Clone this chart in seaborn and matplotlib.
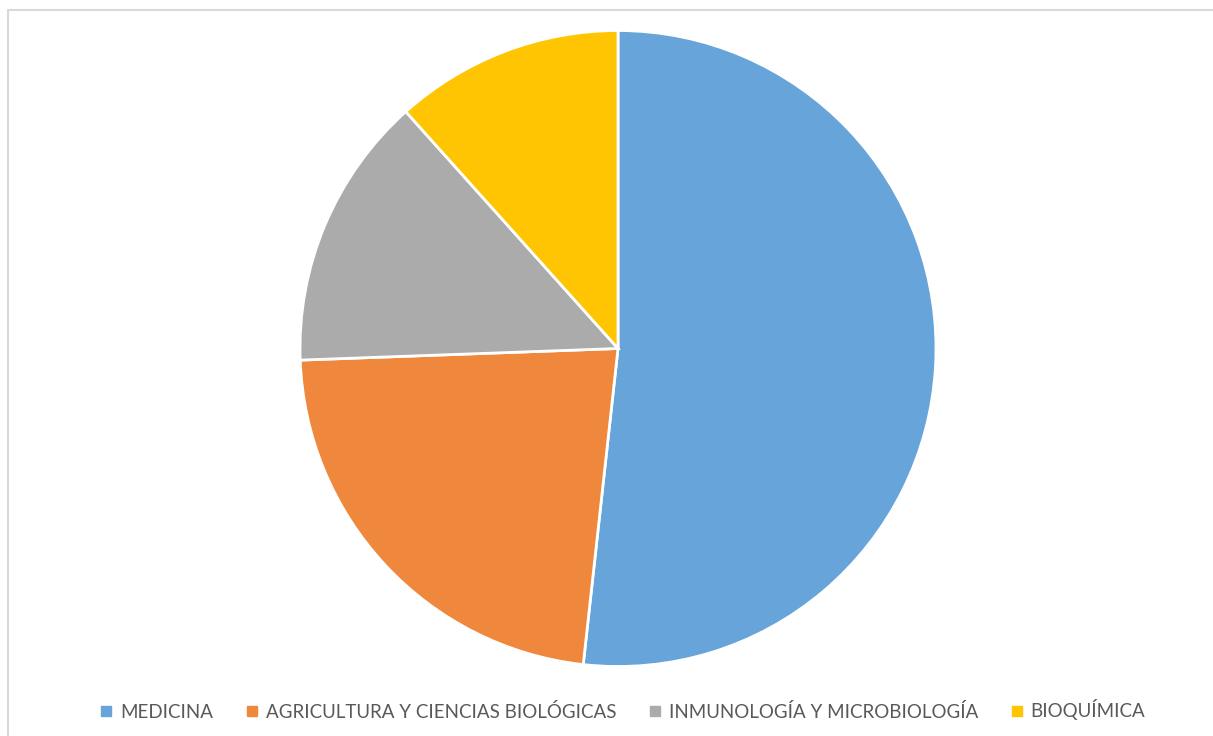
import matplotlib
matplotlib.use("Agg")
import matplotlib.pyplot as plt
import seaborn as sns
from matplotlib.lines import Line2D

categories = ["MEDICINA", "AGRICULTURA Y CIENCIAS BIOLÓGICAS",
              "INMUNOLOGÍA Y MICROBIOLOGÍA", "BIOQUÍMICA"]
values = [89, 39, 24, 20]
colors = ["#67A4D9", "#EF883C", "#ABABAB", "#FFC502"]

sns.set_theme(style="white")
plt.rcParams["font.family"] = ["Lato", "DejaVu Sans"]

W, H = 1213, 736
fig = plt.figure(figsize=(W / 100, H / 100), dpi=100)
fig.patch.set_facecolor("white")

cx, cy, r = 618, 348.5, 318
ax = fig.add_axes([(cx - r) / W, (H - cy - r) / H, 2 * r / W, 2 * r / H])
palette = sns.color_palette(colors)
ax.pie(values, colors=palette, startangle=90, counterclock=False,
       radius=1, wedgeprops=dict(edgecolor="white", linewidth=2))
ax.set_xlim(-1, 1)
ax.set_ylim(-1, 1)
ax.set_aspect("equal")
ax.axis("off")

# chart-area border (top and left visible)
fig.add_artist(Line2D([7.5 / W, 7.5 / W], [0, 1 - 9.5 / H], transform=fig.transFigure,
                      color="#D9D9D9", linewidth=1.5))
fig.add_artist(Line2D([7.5 / W, 1], [1 - 9.5 / H, 1 - 9.5 / H], transform=fig.transFigure,
                      color="#D9D9D9", linewidth=1.5))

handles = [Line2D([0], [0], marker="s", linestyle="none", markersize=7.5,
                  markerfacecolor=c, markeredgecolor=c) for c in colors]
leg = fig.legend(handles, categories, loc="center", bbox_to_anchor=(622 / W, 1 - 710 / H),
                 ncol=4, frameon=False, fontsize=13.5, handlelength=0.8,
                 handletextpad=0.35, columnspacing=1.65, labelcolor="#595959")

fig.savefig("out.png", dpi=100, facecolor="white")
